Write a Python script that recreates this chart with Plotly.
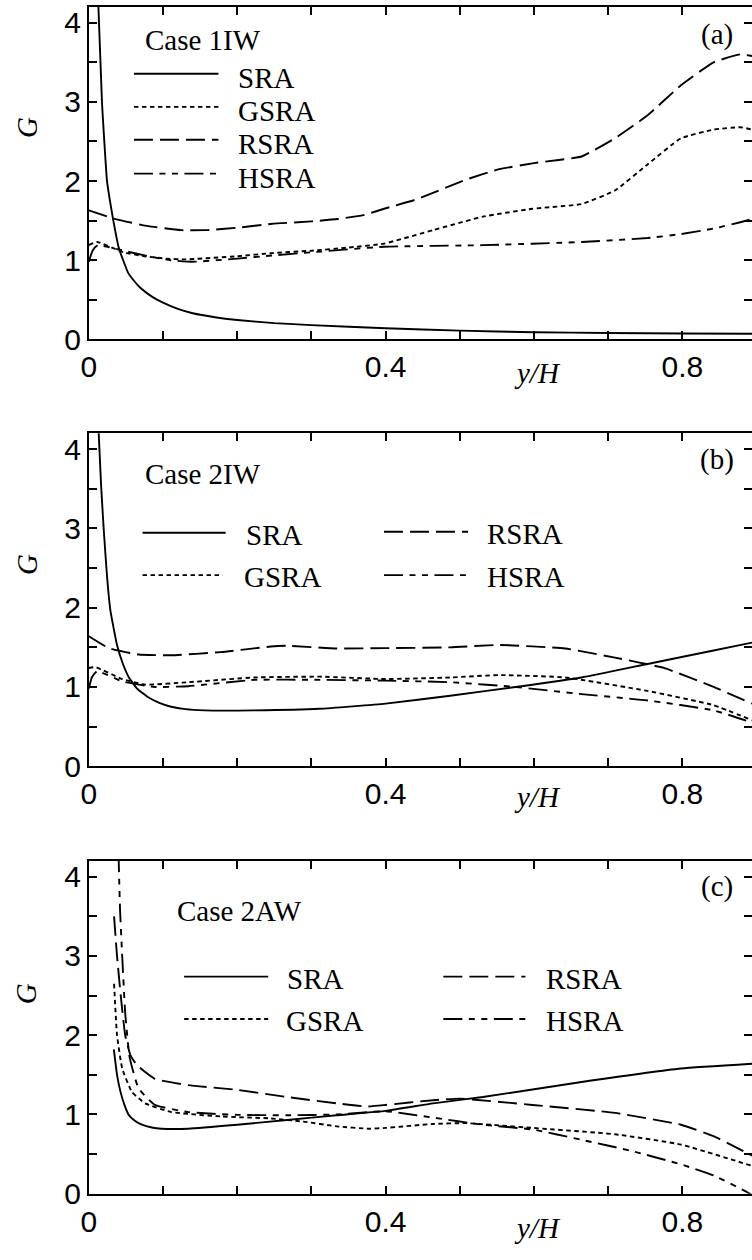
import plotly.graph_objects as go

W, H = 752, 1260

# ---------------- data ----------------
series_names = ["SRA", "GSRA", "RSRA", "HSRA"]
case_titles = ["Case 1IW", "Case 2IW", "Case 2AW"]
panel_tags = ["(a)", "(b)", "(c)"]
x_tick_vals = [0, 0.1, 0.2, 0.3, 0.4, 0.5, 0.6, 0.7, 0.8]
x_tick_text = ["0", "", "", "", "0.4", "", "", "", "0.8"]
y_tick_vals = [0, 0.5, 1, 1.5, 2, 2.5, 3, 3.5, 4]
y_tick_text = ["0", "", "1", "", "2", "", "3", "", "4"]

# Panel (a) Case 1IW
a_sra_x = [0.0125, 0.0177, 0.0245, 0.029, 0.033, 0.040, 0.047, 0.053, 0.060, 0.069, 0.085, 0.10, 0.12, 0.14, 0.17, 0.20, 0.25, 0.30, 0.40, 0.50, 0.60, 0.70, 0.80, 0.894]
a_sra_g = [4.3, 3.0, 2.0, 1.72, 1.50, 1.17, 0.98, 0.84, 0.75, 0.655, 0.54, 0.465, 0.385, 0.33, 0.28, 0.245, 0.205, 0.18, 0.14, 0.11, 0.09, 0.08, 0.075, 0.07]
a_gsra_x = [0, 0.011, 0.047, 0.075, 0.104, 0.13, 0.20, 0.247, 0.30, 0.35, 0.398, 0.464, 0.531, 0.598, 0.664, 0.709, 0.753, 0.798, 0.842, 0.878, 0.894]
a_gsra_g = [1.19, 1.23, 1.10, 1.05, 1.02, 1.01, 1.05, 1.09, 1.12, 1.16, 1.21, 1.38, 1.55, 1.65, 1.71, 1.88, 2.21, 2.54, 2.65, 2.68, 2.65]
a_rsra_x = [0, 0.036, 0.08, 0.124, 0.158, 0.20, 0.247, 0.30, 0.335, 0.37, 0.398, 0.442, 0.509, 0.553, 0.602, 0.664, 0.709, 0.753, 0.798, 0.842, 0.878, 0.894]
a_rsra_g = [1.63, 1.52, 1.43, 1.38, 1.38, 1.41, 1.46, 1.49, 1.52, 1.57, 1.65, 1.77, 2.02, 2.15, 2.23, 2.31, 2.54, 2.83, 3.21, 3.50, 3.60, 3.58]
a_hsra_x = [0, 0.005, 0.012, 0.047, 0.08, 0.11, 0.14, 0.20, 0.247, 0.30, 0.398, 0.531, 0.664, 0.753, 0.798, 0.842, 0.878, 0.894]
a_hsra_g = [0.98, 1.12, 1.19, 1.12, 1.05, 1.00, 0.98, 1.02, 1.06, 1.10, 1.17, 1.19, 1.23, 1.28, 1.33, 1.40, 1.48, 1.52]

# Panel (b) Case 2IW
b_sra_x = [0.0128, 0.0165, 0.020, 0.0245, 0.029, 0.038, 0.046, 0.054, 0.065, 0.08, 0.095, 0.111, 0.13, 0.156, 0.223, 0.311, 0.40, 0.487, 0.575, 0.664, 0.753, 0.842, 0.894]
b_sra_g = [4.3, 3.55, 3.0, 2.4, 1.97, 1.53, 1.29, 1.12, 0.98, 0.87, 0.80, 0.75, 0.72, 0.705, 0.705, 0.725, 0.79, 0.89, 1.0, 1.12, 1.29, 1.46, 1.56]
b_gsra_x = [0, 0.009, 0.045, 0.076, 0.134, 0.223, 0.311, 0.40, 0.487, 0.553, 0.642, 0.753, 0.842, 0.894]
b_gsra_g = [1.24, 1.25, 1.10, 1.03, 1.06, 1.12, 1.13, 1.10, 1.12, 1.15, 1.12, 0.95, 0.77, 0.58]
b_rsra_x = [0, 0.027, 0.067, 0.111, 0.178, 0.245, 0.267, 0.334, 0.40, 0.487, 0.553, 0.642, 0.709, 0.775, 0.842, 0.894]
b_rsra_g = [1.64, 1.49, 1.41, 1.40, 1.44, 1.51, 1.52, 1.485, 1.49, 1.50, 1.53, 1.485, 1.37, 1.24, 1.0, 0.79]
b_hsra_x = [0, 0.004, 0.011, 0.045, 0.089, 0.134, 0.223, 0.311, 0.40, 0.487, 0.575, 0.664, 0.753, 0.842, 0.894]
b_hsra_g = [0.98, 1.12, 1.20, 1.07, 1.00, 1.01, 1.09, 1.09, 1.08, 1.06, 1.00, 0.91, 0.83, 0.705, 0.55]

# Panel (c) Case 2AW
c_sra_x = [0.0337, 0.038, 0.0427, 0.048, 0.0537, 0.062, 0.0715, 0.085, 0.098, 0.134, 0.20, 0.267, 0.334, 0.40, 0.464, 0.531, 0.664, 0.798, 0.894]
c_sra_g = [1.82, 1.50, 1.285, 1.12, 0.995, 0.92, 0.87, 0.835, 0.82, 0.82, 0.87, 0.93, 0.99, 1.045, 1.14, 1.22, 1.41, 1.58, 1.64]
c_gsra_x = [0.034, 0.038, 0.045, 0.058, 0.076, 0.111, 0.178, 0.245, 0.289, 0.334, 0.378, 0.40, 0.464, 0.509, 0.598, 0.709, 0.798, 0.894]
c_gsra_g = [2.65, 2.0, 1.58, 1.285, 1.14, 1.03, 0.975, 0.95, 0.91, 0.85, 0.82, 0.83, 0.88, 0.89, 0.83, 0.75, 0.62, 0.35]
c_rsra_x = [0.034, 0.038, 0.043, 0.049, 0.056, 0.065, 0.089, 0.134, 0.20, 0.267, 0.334, 0.374, 0.40, 0.464, 0.50, 0.598, 0.709, 0.798, 0.842, 0.894]
c_rsra_g = [3.5, 3.0, 2.5, 2.0, 1.75, 1.62, 1.45, 1.37, 1.31, 1.22, 1.14, 1.10, 1.12, 1.18, 1.20, 1.12, 1.02, 0.87, 0.725, 0.48]
c_hsra_x = [0.040, 0.042, 0.0444, 0.049, 0.055, 0.067, 0.089, 0.134, 0.20, 0.267, 0.334, 0.40, 0.464, 0.531, 0.598, 0.664, 0.731, 0.798, 0.842, 0.887, 0.894]
c_hsra_g = [4.3, 3.6, 3.11, 2.28, 1.72, 1.33, 1.12, 1.03, 0.995, 0.99, 1.00, 1.04, 0.96, 0.87, 0.81, 0.68, 0.54, 0.37, 0.23, 0.02, -0.02]

panels = [
    {"SRA": (a_sra_x, a_sra_g), "GSRA": (a_gsra_x, a_gsra_g), "RSRA": (a_rsra_x, a_rsra_g), "HSRA": (a_hsra_x, a_hsra_g)},
    {"SRA": (b_sra_x, b_sra_g), "GSRA": (b_gsra_x, b_gsra_g), "RSRA": (b_rsra_x, b_rsra_g), "HSRA": (b_hsra_x, b_hsra_g)},
    {"SRA": (c_sra_x, c_sra_g), "GSRA": (c_gsra_x, c_gsra_g), "RSRA": (c_rsra_x, c_rsra_g), "HSRA": (c_hsra_x, c_hsra_g)},
]

# ---------------- styling / layout ----------------
dashes = {"SRA": "solid", "GSRA": "4.5px,3.5px", "RSRA": "19px,7px",
          "HSRA": "19px,6.5px,6px,6.5px,6px,6.5px"}
LW = 1.9
AXW = 2.0
TICKFONT = dict(family="Liberation Sans, Arial", size=30, color="black")
SERIF = "Liberation Serif, Times New Roman"
SERIF_SIZE = 29

# pixel geometry of each panel (top, bottom)
panel_px = [(7.0, 344.0), (439.3, 776.7), (872.7, 1210.0)]
left_px = 81.7
XMAX = (W - left_px) / 750.0


def pxx(px):
    return px / W


def pxy(py):
    return 1 - py / H


fig = go.Figure()
layout = dict(width=W, height=H, margin=dict(l=0, r=0, t=0, b=0),
              paper_bgcolor="white", plot_bgcolor="white", showlegend=False)

for i, pdata in enumerate(panels):
    n = i + 1
    xa = "x" if n == 1 else f"x{n}"
    ya = "y" if n == 1 else f"y{n}"
    yr = f"y{n + 3}"
    for name in series_names:
        xs, gs = pdata[name]
        fig.add_trace(go.Scatter(x=xs, y=gs, mode="lines", xaxis=xa, yaxis=ya,
                                 line=dict(color="black", width=LW, dash=dashes[name],
                                           shape="spline", smoothing=0.4),
                                 hoverinfo="skip", name=name))
    fig.add_trace(go.Scatter(x=[None], y=[None], xaxis=xa, yaxis=yr, mode="lines",
                             hoverinfo="skip", showlegend=False))
    top, bot = panel_px[i]
    dom_y = [pxy(bot), pxy(top)]
    xkey = "xaxis" if n == 1 else f"xaxis{n}"
    ykey = "yaxis" if n == 1 else f"yaxis{n}"
    layout[xkey] = dict(domain=[pxx(left_px), 1.0], range=[0, XMAX], anchor=ya,
                        tickmode="array", tickvals=x_tick_vals, ticktext=x_tick_text,
                        ticks="inside", ticklen=8, tickwidth=AXW, tickcolor="black",
                        showline=True, linewidth=AXW, linecolor="black", mirror="ticks",
                        showgrid=False, zeroline=False, tickfont=TICKFONT,
                        ticklabelstandoff=0)
    layout[ykey] = dict(domain=dom_y, range=[0, 4.2], anchor=xa,
                        tickmode="array", tickvals=y_tick_vals, ticktext=y_tick_text,
                        ticks="inside", ticklen=8, tickwidth=AXW, tickcolor="black",
                        showline=True, linewidth=AXW, linecolor="black",
                        showgrid=False, zeroline=False, tickfont=TICKFONT,
                        ticklabelstandoff=0)
    layout[f"yaxis{n + 3}"] = dict(overlaying=ya, side="right", anchor=xa, range=[0, 4.2],
                                   tickmode="array", tickvals=y_tick_vals,
                                   ticks="inside", ticklen=8, tickwidth=AXW, tickcolor="black",
                                   showticklabels=False, showline=False, showgrid=False,
                                   zeroline=False)

fig.update_layout(**layout)

annotations = []
shapes = []


def txt(px, py, s, size=SERIF_SIZE, italic=False, angle=0, xanchor="left"):
    annotations.append(dict(x=pxx(px), y=pxy(py), xref="paper", yref="paper",
                            text=f"<i>{s}</i>" if italic else s, showarrow=False,
                            xanchor=xanchor, yanchor="middle", textangle=angle,
                            font=dict(family=SERIF, size=size, color="black")))


def key(x0, x1, py, name):
    shapes.append(dict(type="line", xref="paper", yref="paper",
                       x0=pxx(x0), x1=pxx(x1), y0=pxy(py), y1=pxy(py),
                       line=dict(color="black", width=LW, dash=dashes[name])))


# axis titles and panel tags
g_pos = [129, 572, 1007]
yh_pos = [378, 808, 1245]
case_pos = [(136, 41), (136, 480), (169, 923)]
tag_pos = [35, 466, 899]
for i in range(3):
    txt(19, g_pos[i], "G", italic=True, angle=-90, xanchor="center")
    txt(535, yh_pos[i], "y/H", italic=True, xanchor="center")
    txt(case_pos[i][0], case_pos[i][1], case_titles[i])
    txt(717, tag_pos[i], panel_tags[i], xanchor="center")

# legend panel (a): single column
leg_a = [("SRA", 74.7), ("GSRA", 108.3), ("RSRA", 141.7), ("HSRA", 176.0)]
for name, py in leg_a:
    key(127.3, 212.7, py, name)
    txt(230, py + 4, name)

# legend panels (b), (c): two columns
leg_b = [("SRA", 136, 220, 239, 540), ("GSRA", 136, 217, 237, 583),
         ("RSRA", 380, 465, 482, 539), ("HSRA", 380, 465, 482, 583)]
leg_c = [("SRA", 178, 263, 280, 990), ("GSRA", 178, 263, 279, 1033),
         ("RSRA", 440, 523, 542, 990), ("HSRA", 440, 523, 542, 1033)]
for name, x0, x1, tx, py in leg_b + leg_c:
    key(x0, x1, py, name)
    txt(tx, py + 2, name)

fig.update_layout(annotations=annotations, shapes=shapes)
fig.write_html("out.html")
